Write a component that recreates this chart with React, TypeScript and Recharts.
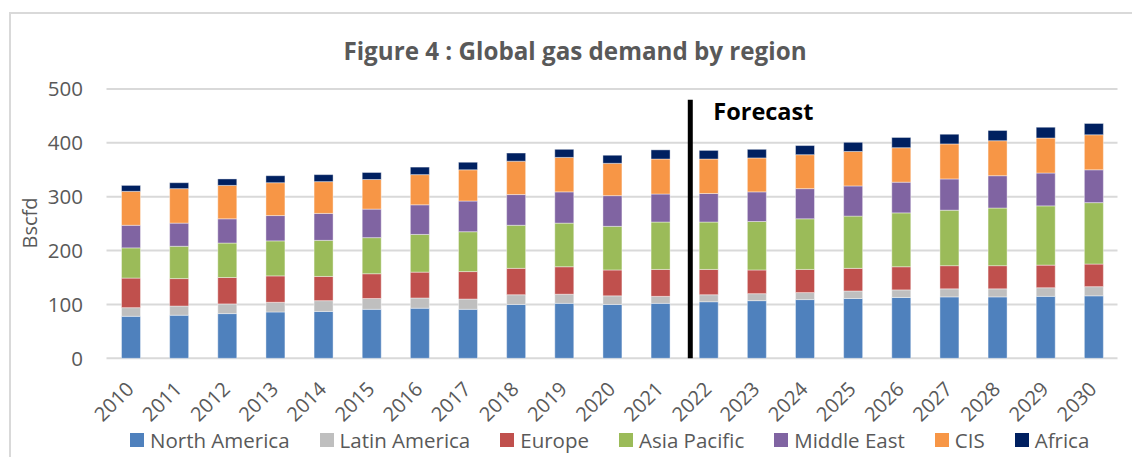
import React from 'react';
import { BarChart, Bar, XAxis, YAxis, CartesianGrid, ReferenceLine } from 'recharts';

const years = ['2010','2011','2012','2013','2014','2015','2016','2017','2018','2019','2020','2021','2022','2023','2024','2025','2026','2027','2028','2029','2030'];
const northAmerica = [78,80,83,86,87,91,93,91,100,102,100,102,105,107,109,111,113,114,114,115,116];
const latinAmerica = [16,17,18,18,20,20,19,19,18,17,16,13,13,13,13,14,14,15,15,16,17];
const europe = [55,51,49,49,45,46,48,51,49,51,48,50,47,44,43,42,43,43,43,42,42];
const asiaPacific = [56,60,64,65,67,67,70,74,80,81,81,88,88,90,94,97,100,103,107,110,114];
const middleEast = [42,43,45,47,50,53,55,57,57,58,57,52,53,55,56,56,57,58,60,61,61];
const cis = [63,64,62,61,59,55,56,58,62,64,60,65,64,63,63,64,64,65,65,65,65];
const africa = [11,11,12,13,13,13,14,14,15,15,15,17,16,16,17,17,19,18,19,20,21];
const yTicks = [0, 100, 200, 300, 400, 500];
const forecastYear = '2022';
const forecastTop = 480;

const series = [
  { key: 'na', name: 'North America', values: northAmerica, color: '#4F81BD' },
  { key: 'la', name: 'Latin America', values: latinAmerica, color: '#BFBFBF' },
  { key: 'eu', name: 'Europe', values: europe, color: '#C0504D' },
  { key: 'ap', name: 'Asia Pacific', values: asiaPacific, color: '#9BBB59' },
  { key: 'me', name: 'Middle East', values: middleEast, color: '#8064A2' },
  { key: 'cis', name: 'CIS', values: cis, color: '#F79646' },
  { key: 'af', name: 'Africa', values: africa, color: '#002060' },
];

const data = years.map((y, i) => {
  const row: Record<string, string | number> = { year: y };
  series.forEach((s) => { row[s.key] = s.values[i]; });
  return row;
});

const FONT = '"Open Sans", Lato, sans-serif';
const GRAY = '#595959';

const XTick = (props: any) => {
  const { x, y, payload } = props;
  return (
    <g transform={`translate(${x + 4.5},${y + 24})`}>
      <text textAnchor="end" transform="rotate(-45)" fontSize={20} fill={GRAY} fontFamily={FONT}>
        {payload.value}
      </text>
    </g>
  );
};

const ForecastShape = (props: any) => {
  const { x1, y1, y2 } = props;
  const x = x1 - 18;
  return (
    <g>
      <line x1={x} x2={x} y1={Math.min(y1, y2)} y2={Math.max(y1, y2)} stroke="#000" strokeWidth={5} />
      <text x={x + 23} y={Math.min(y1, y2) + 20} fontSize={23.5} fontWeight={700} fill="#000" fontFamily={FONT}>
        Forecast
      </text>
    </g>
  );
};

export default function App() {
  return (
    <div style={{ position: 'fixed', left: 0, top: 0, width: 1132, height: 457, background: '#fff', overflow: 'hidden', fontFamily: FONT }}>
      <div style={{ position: 'absolute', left: 9, top: 12, width: 1200, height: 500, borderTop: '2px solid #d9d9d9', borderLeft: '2px solid #d9d9d9' }} />
      <svg width={1132} height={457} style={{ position: 'absolute', left: 0, top: 0 }}>
        <text x={575} y={60} textAnchor="middle" fontSize={24.2} fontWeight={700} fill={GRAY} fontFamily={FONT}>
          Figure 4 : Global gas demand by region
        </text>
        <text transform="translate(37,223) rotate(-90)" textAnchor="middle" fontSize={20} fill={GRAY} fontFamily={FONT}>
          Bscfd
        </text>
      </svg>
      <div style={{ position: 'absolute', left: 0, top: 0 }}>
        <BarChart width={1132} height={457} data={data} margin={{ top: 89, right: 14.5, bottom: 38.7, left: 0 }} barSize={19}>
          <CartesianGrid vertical={false} stroke="#d9d9d9" strokeWidth={2} />
          <XAxis dataKey="year" height={60} tick={<XTick />} tickLine={false} axisLine={false} interval={0} />
          <YAxis width={106.5} domain={[0, 500]} ticks={yTicks} tickLine={false} axisLine={false} tickMargin={17.5}
            tick={{ fontSize: 20.5, fill: GRAY, fontFamily: FONT }} />
          {series.map((s) => (
            <Bar key={s.key} dataKey={s.key} name={s.name} stackId="a" fill={s.color} stroke="#ffffff" strokeOpacity={0.5} strokeWidth={0.8} isAnimationActive={false} />
          ))}
          <ReferenceLine segment={[{ x: forecastYear, y: 0 }, { x: forecastYear, y: forecastTop }]} shape={<ForecastShape />} ifOverflow="visible" />
        </BarChart>
      </div>
      <div style={{ position: 'absolute', left: 130, top: 426, display: 'flex', alignItems: 'center', gap: 30, whiteSpace: 'nowrap' }}>
        {series.map((s) => (
          <div key={s.key} style={{ display: 'flex', alignItems: 'center' }}>
            <div style={{ width: 14, height: 14, background: s.color, marginRight: 6 }} />
            <span style={{ fontSize: 20.5, color: GRAY, lineHeight: '28px' }}>{s.name}</span>
          </div>
        ))}
      </div>
    </div>
  );
}
